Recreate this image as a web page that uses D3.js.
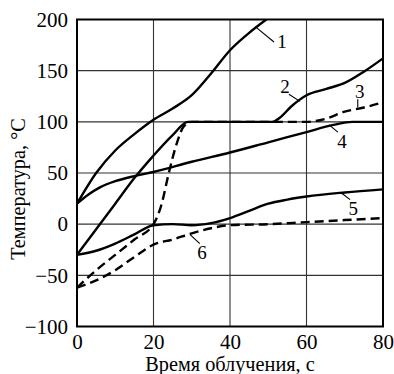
<!DOCTYPE html>
<html>
<head>
<meta charset="utf-8">
<script src="https://cdn.jsdelivr.net/npm/d3@7"></script>
<style>
  html, body { margin: 0; padding: 0; background: #fff; }
  svg { display: block; }
  text { font-family: "Liberation Serif", "Times New Roman", serif; fill: #000; }
</style>
</head>
<body>
<svg id="chart" width="394" height="374"></svg>
<script>
// Temperature vs. irradiation time, six curves
const xTicks = [0, 20, 40, 60, 80];
const yTicks = [-100, -50, 0, 50, 100, 150, 200];
const yTickLabels = ["\u2212100", "\u221250", "0", "50", "100", "150", "200"];

const curve1 = [[0,20],[5,50],[10,72],[15,88],[20,102],[25,113],[30,126],[35,147],[40,170],[45,187],[49.5,200]];
const curve2 = [[0,-30],[5,-5],[10,20],[15,45],[20,67],[25,87],[29,100],[35,100],[45,100],[51,100],[53,104],[56,115],[60,126],[65,132],[70,138],[75,149],[80,162]];
const curve3 = [[0,-62],[5,-45],[10,-30],[15,-15],[20,0],[22,18],[24,50],[26,78],[28,96],[30,100],[40,100],[50,100],[60,100],[65,103],[70,110],[75,114],[80,119]];
const curve4 = [[0,20],[3,29],[6,36],[10,42],[15,47],[20,51],[30,61],[40,70],[50,80],[60,90],[67,97],[72,100],[80,100]];
const curve5 = [[0,-30],[5,-26],[10,-19],[15,-10],[20,-1],[25,0],[30,-1],[35,1],[40,6],[45,13],[50,20],[55,24],[60,27],[70,31],[80,34]];
const curve6 = [[0,-62],[5,-55],[10,-45],[15,-32],[20,-20],[25,-15],[30,-9],[35,-4],[40,-1],[50,0],[60,2],[70,4],[80,6]];

const series = [
  { values: curve1, dashed: false },
  { values: curve2, dashed: false },
  { values: curve3, dashed: true },
  { values: curve4, dashed: false },
  { values: curve5, dashed: false },
  { values: curve6, dashed: true }
];

// Curve numbers with leader lines (data coordinates)
const labelText = ["1", "2", "3", "4", "5", "6"];
const labelAt = [[53.6,179],[54.4,135],[73.9,130],[69.3,81],[72.2,15],[32.7,-28]];
const leaderFrom = [[46.6,193],[55.4,127],[73.4,122],[65.9,97],[69.3,30],[29.5,-10]];
const leaderTo = [[51.5,178],[58.3,120],[73.4,114],[68.2,90],[71.4,24],[32.1,-19]];

const svg = d3.select("#chart");
const plotL = 77, plotR = 383, plotT = 19.5, plotB = 326.5;

const x = d3.scaleLinear().domain([0, 80]).range([plotL, plotR]);
const y = d3.scaleLinear().domain([-100, 200]).range([plotB, plotT]);

svg.append("rect").attr("width", 394).attr("height", 374).attr("fill", "#fff");

// grid
const grid = svg.append("g").attr("stroke", "#333").attr("stroke-width", 1.1);
grid.selectAll("line.v").data(xTicks.slice(1, -1)).join("line")
  .attr("x1", d => x(d)).attr("x2", d => x(d))
  .attr("y1", plotT).attr("y2", plotB);
grid.selectAll("line.h").data(yTicks.slice(1, -1)).join("line")
  .attr("x1", plotL).attr("x2", plotR)
  .attr("y1", d => y(d)).attr("y2", d => y(d));

// axes (labels only, ticks are drawn as grid)
const xAxis = d3.axisBottom(x).tickValues(xTicks).tickSize(0).tickPadding(7.5);
svg.append("g").attr("transform", `translate(0,${plotB})`).call(xAxis)
  .call(g => g.select(".domain").remove())
  .call(g => g.selectAll("text").attr("font-size", 21).attr("font-family", "Liberation Serif"));

const yAxis = d3.axisLeft(y).tickValues(yTicks).tickSize(0).tickPadding(9)
  .tickFormat((d, i) => yTickLabels[i]);
svg.append("g").attr("transform", `translate(${plotL},0)`).call(yAxis)
  .call(g => g.select(".domain").remove())
  .call(g => g.selectAll("text").attr("font-size", 21).attr("font-family", "Liberation Serif"));

// curves
svg.append("clipPath").attr("id", "plot")
  .append("rect").attr("x", plotL).attr("y", plotT).attr("width", plotR - plotL).attr("height", plotB - plotT);

const line = d3.line().x(d => x(d[0])).y(d => y(d[1])).curve(d3.curveMonotoneX);
svg.append("g").attr("clip-path", "url(#plot)")
  .selectAll("path").data(series).join("path")
  .attr("d", d => line(d.values))
  .attr("fill", "none")
  .attr("stroke", "#000")
  .attr("stroke-width", 2.4)
  .attr("stroke-dasharray", d => d.dashed ? "9,5" : null);

// frame
svg.append("rect")
  .attr("x", plotL).attr("y", plotT).attr("width", plotR - plotL).attr("height", plotB - plotT)
  .attr("fill", "none").attr("stroke", "#000").attr("stroke-width", 2);

// curve numbers
const ann = svg.append("g");
labelText.forEach((t, i) => {
  ann.append("line")
    .attr("x1", x(leaderFrom[i][0])).attr("y1", y(leaderFrom[i][1]))
    .attr("x2", x(leaderTo[i][0])).attr("y2", y(leaderTo[i][1]))
    .attr("stroke", "#000").attr("stroke-width", 1.1);
  ann.append("text")
    .attr("x", x(labelAt[i][0])).attr("y", y(labelAt[i][1]))
    .attr("text-anchor", "middle").attr("dy", "0.35em")
    .attr("font-size", 19).text(t);
});

// axis titles
svg.append("text")
  .attr("x", (plotL + plotR) / 2).attr("y", 370.5)
  .attr("text-anchor", "middle").attr("font-size", 20.3)
  .text("Время облучения, с");

svg.append("text")
  .attr("transform", "translate(25,189) rotate(-90)")
  .attr("text-anchor", "middle").attr("font-size", 20.3)
  .text("Температура, °C");
</script>
</body>
</html>
